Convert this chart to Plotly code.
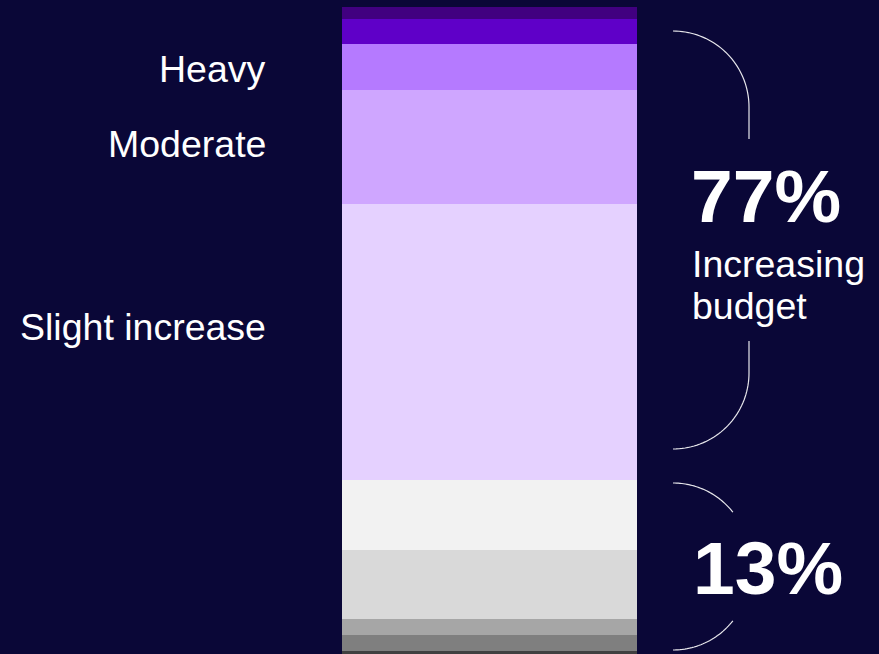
import numpy as np
import plotly.graph_objects as go

# ---- data (bottom to top of the stacked bar) ----
segments = ["Extreme decrease", "Heavy decrease", "Moderate decrease", "Slight decrease",
            "No change", "Slight increase", "Moderate", "Heavy", "Very heavy", "Extreme"]
values = [3.0, 2.6, 2.6, 11.2, 11.4, 45.0, 18.5, 7.5, 4.0, 2.0]
colors = ["#404040", "#7f7f7f", "#a6a6a6", "#d9d9d9", "#f2f2f2",
          "#e5d1ff", "#cfa6ff", "#b57aff", "#5f00c8", "#410080"]
left_labels = ["Heavy", "Moderate", "Slight increase"]
big_numbers = ["77%", "13%"]
sub_lines = ["Increasing", "budget"]

W, H = 879, 654
BG = "#0a0737"
FONT = "Arial, Liberation Sans, sans-serif"

def X(px):
    return px / W

def Y(py):
    return 1 - py / H

fig = go.Figure()
for name, v, c in zip(segments, values, colors):
    fig.add_trace(go.Bar(x=[0], y=[v], name=name, width=1,
                         marker=dict(color=c, line=dict(width=0)),
                         hoverinfo="name+y"))

# axis mapping: bar spans px 342..637 horizontally, top at px 7
bar_l, bar_r = 342, 637
bw = bar_r - bar_l
xr = [-0.5 - bar_l / bw, 0.5 + (W - bar_r) / bw]
total = sum(values)
pxu = 6.145
y1 = total + 7 / pxu
y0 = y1 - H / pxu

fig.update_layout(
    width=W, height=H, barmode="stack", showlegend=False,
    paper_bgcolor=BG, plot_bgcolor=BG,
    margin=dict(l=0, r=0, t=0, b=0),
    xaxis=dict(range=xr, visible=False, fixedrange=True),
    yaxis=dict(range=[y0, y1], visible=False, fixedrange=True),
    bargap=0,
)

# left labels
label_y = [69, 144, 327]
for t, yy in zip(left_labels, label_y):
    fig.add_annotation(text=t, xref="paper", yref="paper", x=X(268), y=Y(yy),
                       xanchor="right", yanchor="middle", showarrow=False,
                       font=dict(family=FONT, size=37.5, color="white"))

# right big numbers
fig.add_annotation(text="<b>%s</b>" % big_numbers[0], xref="paper", yref="paper",
                   x=X(689), y=Y(196), xanchor="left", yanchor="middle", showarrow=False,
                   font=dict(family=FONT, size=75, color="white"))
for t, yy in zip(sub_lines, [264, 306]):
    fig.add_annotation(text=t, xref="paper", yref="paper",
                       x=X(690), y=Y(yy), xanchor="left", yanchor="middle", showarrow=False,
                       font=dict(family=FONT, size=37.5, color="white"))
fig.add_annotation(text="<b>%s</b>" % big_numbers[1], xref="paper", yref="paper",
                   x=X(691), y=Y(568), xanchor="left", yanchor="middle", showarrow=False,
                   font=dict(family=FONT, size=75, color="white"))

# brackets
R = 76
def arc(cx, cy, a0, a1, n=40):
    t = np.radians(np.linspace(a0, a1, n))
    return [(cx + R * np.sin(a), cy - R * np.cos(a)) for a in t]

def path(pts):
    s = "M %f %f " % (X(pts[0][0]), Y(pts[0][1]))
    s += " ".join("L %f %f" % (X(px), Y(py)) for px, py in pts[1:])
    return s

line = dict(color="rgba(255,255,255,0.9)", width=1.2)
# 77% bracket
top = arc(673, 31 + R, 0, 90) + [(673 + R, 139)]
bot = [(673 + R, 341)] + [(673 + R * np.sin(a), 449 - R + R * np.cos(a))
                           for a in np.radians(np.linspace(90, 0, 40))]
# 13% bracket
top2 = arc(673, 483 + R, 0, 52)
bot2 = [(673 + R * np.sin(a), 650 - R + R * np.cos(a)) for a in np.radians(np.linspace(52, 0, 30))]
for p in (top, bot, top2, bot2):
    fig.add_shape(type="path", path=path(p), xref="paper", yref="paper", line=line)

fig.write_html("out.html", config={"displayModeBar": False},
               post_script="document.body.style.margin='0';document.body.style.overflow='hidden';")
